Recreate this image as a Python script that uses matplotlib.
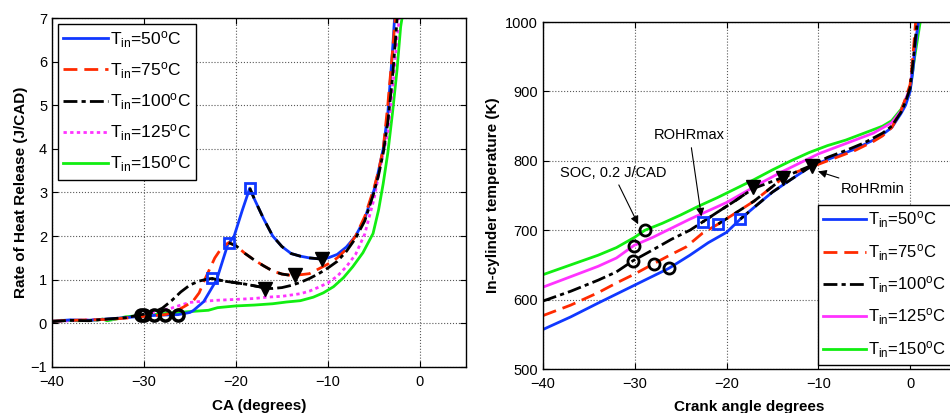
import matplotlib
matplotlib.use("Agg")
from matplotlib import pyplot as plt

plt.rcParams['font.family'] = ['Liberation Sans', 'DejaVu Sans']
plt.rcParams['mathtext.fontset'] = 'custom'
plt.rcParams['mathtext.rm'] = 'Liberation Sans'
plt.rcParams['mathtext.it'] = 'Liberation Sans'

labels = [r'T$_{\mathrm{in}}$=50$^{\mathrm{o}}$C', r'T$_{\mathrm{in}}$=75$^{\mathrm{o}}$C',
          r'T$_{\mathrm{in}}$=100$^{\mathrm{o}}$C', r'T$_{\mathrm{in}}$=125$^{\mathrm{o}}$C',
          r'T$_{\mathrm{in}}$=150$^{\mathrm{o}}$C']
colors = ['#1038ff', '#ff2a00', 'black', '#ff33ff', '#11ee11']

# rate of heat release vs crank angle (left)
ca_50 = [-40, -38, -36, -34, -32, -30, -28, -26.3, -25, -24.6, -23.5, -22.1, -20.9, -20.2, -19.3, -18.5,
         -18, -17, -16, -15, -14, -13, -12, -11, -10.6, -10, -9, -8, -7, -6, -5, -4.5, -4, -3.5, -3, -2.7]
rohr_50 = [0.05, 0.08, 0.07, 0.1, 0.13, 0.17, 0.19, 0.2, 0.25, 0.3, 0.5, 1.0, 1.8, 2.0, 2.6, 3.1,
           2.85, 2.4, 2.0, 1.76, 1.6, 1.54, 1.5, 1.48, 1.48, 1.5, 1.58, 1.75, 2.0, 2.4, 3.05, 3.5, 4.0, 4.8, 6.2, 7.2]
ca_75 = [-40, -38, -36, -34, -32, -30, -27.7, -26.5, -25.5, -24.7, -24, -23.4, -22.3, -21.5, -20.8, -20,
         -19, -18, -17, -16, -15, -14, -13.6, -12, -11, -10, -9, -8, -7, -6, -5, -4.5, -4, -3.5, -3, -2.6]
rohr_75 = [0.05, 0.07, 0.08, 0.09, 0.12, 0.16, 0.2, 0.28, 0.4, 0.5, 0.7, 1.0, 1.5, 1.75, 1.85, 1.78,
           1.6, 1.45, 1.32, 1.2, 1.13, 1.1, 1.1, 1.14, 1.25, 1.36, 1.5, 1.7, 2.0, 2.45, 3.1, 3.5, 4.0, 5.0, 6.2, 7.2]
ca_100 = [-40, -38, -36, -34, -32, -30.3, -29, -28, -27, -26, -25, -24, -23, -22.6, -22, -21, -20, -19,
          -18, -17, -16.8, -16, -15, -14, -13, -12, -11, -10, -9, -8, -7, -6, -5, -4.5, -4, -3.5, -3, -2.7, -2.4]
rohr_100 = [0.04, 0.07, 0.06, 0.1, 0.13, 0.2, 0.25, 0.35, 0.52, 0.72, 0.88, 0.97, 1.02, 1.03, 1.0, 0.96,
            0.93, 0.9, 0.86, 0.82, 0.8, 0.8, 0.82, 0.87, 0.94, 1.03, 1.14, 1.27, 1.42, 1.65, 1.95, 2.35, 3.0,
            3.4, 3.9, 4.6, 5.6, 6.4, 7.2]
ca_125 = [-40, -38, -36, -34, -32, -30, -28, -27, -26, -25, -24, -22, -20, -18, -16.7, -15, -13, -12, -11,
          -10, -9, -8, -7, -6, -5, -4.5, -4, -3.5, -3, -2.6, -2.2]
rohr_125 = [0.05, 0.06, 0.08, 0.09, 0.13, 0.2, 0.3, 0.35, 0.42, 0.48, 0.5, 0.53, 0.55, 0.57, 0.6, 0.62,
            0.68, 0.74, 0.83, 0.93, 1.08, 1.3, 1.58, 2.05, 2.85, 3.4, 3.9, 4.36, 5.3, 6.3, 7.1]
ca_150 = [-40, -39, -37, -35, -34.5, -34, -33, -32, -31, -29, -27, -25, -23, -22, -21, -20, -18, -16,
          -14.5, -13, -11.6, -10.5, -9.4, -8.3, -7.3, -6.2, -5.1, -4.5, -4, -3.5, -3, -2.5, -2.1, -1.8]
rohr_150 = [0.05, 0.07, 0.06, 0.08, 0.1, 0.06, 0.1, 0.15, 0.17, 0.2, 0.24, 0.27, 0.3, 0.36, 0.38, 0.4,
            0.42, 0.45, 0.49, 0.52, 0.6, 0.7, 0.84, 1.05, 1.3, 1.62, 2.06, 2.6, 3.2, 3.9, 4.8, 5.8, 6.8, 7.2]

soc_ca_left = [-26.3, -27.7, -30.3, -30.0, -28.9]
soc_rohr = [0.2, 0.2, 0.2, 0.2, 0.2]
max_ca_left = [-18.5, -20.8, -22.6]
max_rohr = [3.1, 1.85, 1.03]
min_ca_left = [-10.6, -13.6, -16.8]
min_rohr = [1.48, 1.1, 0.78]

# in-cylinder temperature vs crank angle (right)
tca_50 = [-40, -37, -34, -32, -30, -28, -26.3, -24, -22, -20, -18.5, -17, -15, -13, -10.7, -8, -6, -4, -3,
          -2, -1, -0.5, 0, 0.3, 0.6, 0.9]
temp_50 = [557, 575, 595, 608, 621, 634, 645, 664, 682, 697, 716, 733, 755, 773, 793, 807, 817, 830, 838,
           848, 868, 880, 900, 930, 970, 1000]
tca_75 = [-40, -37, -34, -32, -30, -27.9, -26.2, -24.4, -22.6, -20.9, -19, -17, -15, -13.8, -12, -10, -8,
          -6, -4, -3, -2, -1, -0.5, 0, 0.3, 0.6]
temp_75 = [577, 592, 610, 624, 637, 652, 664, 676, 696, 709, 725, 742, 763, 776, 786, 795, 805, 815, 828,
           836, 848, 872, 890, 910, 950, 1000]
tca_100 = [-40, -37, -34, -32, -30.2, -28, -26, -24, -22.6, -21, -19, -17.1, -15.5, -13.5, -11, -9, -7,
           -5, -3, -2, -1, -0.5, 0, 0.3, 0.6, 0.8]
temp_100 = [598, 612, 628, 640, 656, 672, 687, 700, 712, 726, 743, 760, 768, 778, 792, 805, 815, 826, 840,
            850, 870, 885, 905, 940, 980, 1000]
tca_125 = [-40, -37, -34, -32, -30.1, -28, -26, -24, -22, -20, -18, -16, -14, -12, -10, -8, -6, -4, -2, -1,
           0, 0.5, 0.9]
temp_125 = [618, 633, 648, 660, 678, 690, 703, 716, 728, 740, 755, 770, 784, 797, 810, 820, 830, 840, 855,
            872, 905, 960, 1000]
tca_150 = [-40, -37, -34, -32, -30, -28.9, -27, -25, -23, -21, -19, -17, -15, -13, -11, -9, -7, -5, -3, -2,
           -1, 0, 0.5, 1.1]
temp_150 = [636, 650, 664, 675, 690, 700, 710, 722, 735, 747, 760, 773, 787, 800, 812, 822, 830, 840, 850,
            858, 874, 902, 950, 1000]

soc_ca_right = [-26.3, -27.9, -30.2, -30.1, -28.9]
soc_temp = [645, 652, 656, 678, 700]
max_ca_right = [-18.5, -20.9, -22.6]
max_temp = [716, 709, 712]
min_ca_right = [-10.7, -13.8, -17.1]
min_temp = [793, 776, 762]


def overlay(ax, xs, ys, x0, x1):
    seg_x = [x for x in xs if x0 <= x <= x1]
    seg_y = [y for x, y in zip(xs, ys) if x0 <= x <= x1]
    ax.plot(seg_x, seg_y, color='black', ls=(0, (4, 3)), lw=2)


def style_axes(ax):
    ax.grid(True, ls=':', color='0.35', lw=0.8)
    ax.tick_params(direction='in', top=True, right=True, labelsize=10.5, length=4)
    ax.tick_params(axis='x', pad=6)
    for s in ax.spines.values():
        s.set_linewidth(1.0)


def main():
    fig = plt.figure(figsize=(9.5, 4.13), dpi=100)

    # left panel
    ax1 = fig.add_axes([0.0547, 0.1114, 0.4358, 0.845])
    left_x = [ca_50, ca_75, ca_100, ca_125, ca_150]
    left_y = [rohr_50, rohr_75, rohr_100, rohr_125, rohr_150]
    styles_left = ['-', (0, (5, 2.5)), (0, (5, 1.5, 1.5, 1.5)), (0, (1.2, 1.2)), '-']
    order = [4, 3, 0, 1, 2]
    handles = {}
    for i in order:
        h, = ax1.plot(left_x[i], left_y[i], color=colors[i], ls=styles_left[i], lw=2, label=labels[i])
        handles[i] = h
    for i in range(3):
        overlay(ax1, left_x[i], left_y[i], max_ca_left[i], min_ca_left[i])
    ax1.plot(max_ca_left, max_rohr, ls='none', marker='s', ms=7, mfc='none', mec='#1038ff', mew=2)
    ax1.plot(min_ca_left, min_rohr, ls='none', marker='v', ms=10, color='black')
    ax1.plot(soc_ca_left, soc_rohr, ls='none', marker='o', ms=8, mfc='none', mec='black', mew=2.5)
    ax1.set_xlim(-40, 5)
    ax1.set_ylim(-1, 7)
    ax1.set_xticks([-40, -30, -20, -10, 0])
    ax1.set_yticks(range(-1, 8))
    ax1.set_xlabel('CA (degrees)', fontsize=11, fontweight='bold', labelpad=7)
    ax1.set_ylabel('Rate of Heat Release (J/CAD)', fontsize=11, fontweight='bold', labelpad=2)
    style_axes(ax1)
    leg = ax1.legend([handles[i] for i in range(5)], labels, loc='upper left', bbox_to_anchor=(0.0145, 0.983),
                     borderaxespad=0, fancybox=False, edgecolor='black', fontsize=12.5, handlelength=2.6,
                     handletextpad=0.1, labelspacing=0.6, borderpad=0.3, framealpha=1)
    leg.get_frame().set_linewidth(1.0)

    # right panel
    ax2 = fig.add_axes([0.5716, 0.1065, 0.4347, 0.840])
    right_x = [tca_50, tca_75, tca_100, tca_125, tca_150]
    right_y = [temp_50, temp_75, temp_100, temp_125, temp_150]
    styles_right = ['-', (0, (5, 2.5)), (0, (5, 1.5, 1.5, 1.5)), '-', '-']
    handles2 = {}
    for i in order:
        h, = ax2.plot(right_x[i], right_y[i], color=colors[i], ls=styles_right[i], lw=2, label=labels[i])
        handles2[i] = h
    for i in range(3):
        overlay(ax2, right_x[i], right_y[i], max_ca_right[i], min_ca_right[i])
    ax2.plot(max_ca_right, max_temp, ls='none', marker='s', ms=7, mfc='none', mec='#1038ff', mew=2)
    ax2.plot(min_ca_right, min_temp, ls='none', marker='v', ms=10, color='black')
    ax2.plot(soc_ca_right, soc_temp, ls='none', marker='o', ms=8, mfc='none', mec='black', mew=2)
    arrow = dict(arrowstyle='-|>', color='black', lw=0.8, mutation_scale=12)
    ax2.annotate('SOC, 0.2 J/CAD', xy=(-29.5, 705), xytext=(-38.2, 783), fontsize=10.5,
                 va='center', ha='left', arrowprops=arrow)
    ax2.annotate('ROHRmax', xy=(-22.7, 716), xytext=(-27.9, 837), fontsize=10.5,
                 va='center', ha='left', arrowprops=arrow)
    ax2.annotate('RoHRmin', xy=(-10.3, 786), xytext=(-7.6, 760), fontsize=10.5,
                 va='center', ha='left', arrowprops=arrow)
    ax2.set_xlim(-40, 5)
    ax2.set_ylim(500, 1000)
    ax2.set_xticks([-40, -30, -20, -10, 0])
    ax2.set_yticks(range(500, 1001, 100))
    ax2.set_xlabel('Crank angle degrees', fontsize=11, fontweight='bold', labelpad=6)
    ax2.set_ylabel('In-cylinder temperature (K)', fontsize=11, fontweight='bold', labelpad=4)
    style_axes(ax2)
    leg2 = ax2.legend([handles2[i] for i in range(5)], labels, loc='lower left', bbox_to_anchor=(0.666, 0.012),
                      borderaxespad=0, fancybox=False, edgecolor='black', fontsize=12, handlelength=2.6,
                      handletextpad=0.1, labelspacing=0.7, borderpad=0.3, framealpha=1)
    leg2.get_frame().set_linewidth(1.0)

    fig.savefig('out.png', dpi=100)


if __name__ == "__main__":
    main()
